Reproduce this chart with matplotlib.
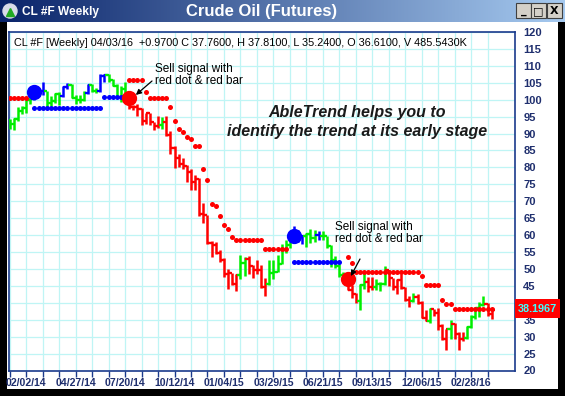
import numpy as np
import pandas as pd
import matplotlib.pyplot as plt
from matplotlib.patches import Rectangle
from matplotlib.colors import LinearSegmentedColormap

plt.rcParams['font.family'] = ['Liberation Sans', 'DejaVu Sans']

W, H = 565, 396
n = np.nan

# weekly bars, CL #F, week starting 01/05/14
weeks = pd.date_range('2014-01-05', periods=118, freq='W-SUN')

opens = [93.9, 92.7, 94.4, 96.6, 97.5, 99.9, 100.3, 102.2, 102.6, 102.6, 98.9, 99.5, 101.7, 101.1, 103.7,
         104.3, 100.6, 99.8, 100.0, 102.0, 104.4, 102.7, 102.7, 106.9, 107.3, 105.7, 104.1, 100.8, 103.1, 102.1,
         97.9, 97.7, 97.4, 93.7, 96.0, 93.3, 92.3, 92.4, 93.5, 89.7, 85.8, 82.8, 81.0, 80.5, 78.7,
         75.8, 76.5, 66.2, 65.8, 57.8, 57.1, 54.7, 52.7, 48.4, 48.7, 45.6, 48.2, 51.7, 52.8, 50.8,
         49.8, 49.6, 44.8, 45.7, 48.9, 49.1, 51.6, 55.7, 57.2, 59.2, 59.4, 59.7, 59.7, 60.3, 59.1,
         60.0, 59.6, 59.6, 56.9, 52.7, 50.9, 48.1, 47.1, 43.9, 42.5, 40.5, 45.2, 46.1, 44.6, 44.7,
         45.7, 45.5, 49.6, 47.3, 44.6, 46.6, 44.3, 40.7, 40.4, 41.7, 40.0, 35.6, 34.7, 38.1, 37.0,
         33.2, 29.4, 32.2, 33.6, 30.9, 29.4, 29.6, 32.8, 35.9, 38.5, 39.4, 39.5, 36.6]
highs = [94.3, 94.6, 97.8, 98.2, 100.0, 101.0, 103.8, 103.3, 105.2, 102.7, 101.0, 102.0, 102.2, 104.0, 104.9,
         104.5, 101.5, 101.3, 102.5, 104.6, 104.5, 103.4, 107.7, 107.7, 107.5, 106.2, 104.5, 103.9, 105.3, 102.3,
         98.5, 98.7, 97.5, 96.2, 96.1, 93.4, 95.1, 95.0, 95.2, 90.8, 86.3, 84.1, 82.7, 80.6, 79.6,
         77.8, 77.0, 69.4, 66.0, 58.2, 58.1, 55.6, 53.1, 50.0, 48.9, 48.4, 54.2, 53.6, 53.9, 51.3,
         52.5, 51.3, 47.4, 52.5, 52.5, 54.0, 57.4, 58.5, 59.9, 62.6, 61.5, 59.9, 60.6, 61.8, 61.4,
         61.2, 61.3, 59.7, 57.0, 53.8, 51.5, 49.0, 47.4, 45.2, 42.9, 45.5, 49.3, 47.6, 47.7, 47.1,
         46.0, 50.9, 49.8, 47.4, 47.0, 48.4, 44.7, 42.0, 42.9, 42.5, 40.4, 37.9, 38.4, 38.1, 38.4,
         33.6, 32.3, 34.8, 34.0, 31.3, 31.5, 33.2, 36.3, 38.7, 40.2, 41.9, 39.8, 37.8]
lows = [91.2, 91.1, 93.7, 95.7, 96.0, 98.8, 100.0, 101.0, 101.5, 97.4, 98.1, 98.9, 98.4, 100.8, 103.1,
        100.6, 98.7, 98.9, 99.6, 101.6, 102.2, 101.9, 102.4, 105.2, 105.2, 103.9, 100.4, 99.3, 101.7, 97.4,
        96.9, 95.1, 92.5, 92.9, 92.5, 91.0, 91.5, 91.2, 89.2, 84.1, 79.8, 80.0, 79.4, 75.8, 73.2,
        73.3, 65.7, 63.7, 57.4, 53.6, 54.4, 52.1, 47.6, 44.2, 45.2, 43.6, 47.0, 48.0, 48.6, 47.4,
        48.4, 44.4, 42.0, 45.3, 47.0, 49.0, 51.4, 54.7, 56.3, 57.6, 58.1, 57.3, 56.5, 57.6, 58.0,
        58.5, 58.6, 56.2, 50.6, 50.2, 47.7, 46.7, 43.8, 41.4, 39.9, 37.75, 44.1, 43.2, 43.8, 43.8,
        43.6, 45.4, 45.1, 43.8, 42.6, 44.0, 40.6, 38.9, 40.3, 39.6, 35.4, 34.5, 33.9, 36.1, 32.1,
        29.1, 26.2, 29.3, 29.3, 26.1, 28.7, 29.3, 32.6, 35.1, 35.9, 39.0, 36.0, 35.2]
closes = [92.7, 94.4, 96.6, 97.5, 99.9, 100.3, 102.2, 102.6, 102.6, 98.9, 99.5, 101.7, 101.1, 103.7, 104.3,
          100.6, 99.8, 100.0, 102.0, 104.4, 102.7, 102.7, 106.9, 107.3, 105.7, 104.1, 100.8, 103.1, 102.1, 97.9,
          97.7, 97.4, 93.7, 96.0, 93.3, 92.3, 92.4, 93.5, 89.7, 85.8, 82.8, 81.0, 80.5, 78.7, 75.8,
          76.5, 66.2, 65.8, 57.8, 57.1, 54.7, 52.7, 48.4, 48.7, 45.6, 48.2, 51.7, 52.8, 50.8, 49.8,
          49.6, 44.8, 45.7, 48.9, 49.1, 51.6, 55.7, 57.2, 59.2, 59.4, 59.7, 59.7, 60.3, 59.1, 60.0,
          59.6, 59.6, 56.9, 52.7, 50.9, 48.1, 47.1, 43.9, 42.5, 40.5, 45.2, 46.1, 44.6, 44.7, 45.7,
          45.5, 49.6, 47.3, 44.6, 46.6, 44.3, 40.7, 40.4, 41.7, 40.0, 35.6, 34.7, 38.1, 37.0, 33.2,
          29.4, 32.2, 33.6, 30.9, 29.4, 29.6, 32.8, 35.9, 38.5, 39.4, 39.5, 36.8, 37.8]
bar_trend = ("gggggg" "bbb" "gggg" "bb" "gggg" "b" "gg" "bb" "ggggg"
             "rrrrrrrr" "g" "rrrrrrrrrrrrrrrrrr" "gg" "rrrrr" "gggggg"
             "bbb" "ggg" "b" "gggggg" "rrr" "gg" "rr" "ggg" "rrrrrr" "g"
             "rrr" "g" "rrrr" "g" "rrr" "ggggg" "rr")

# AbleTrend stop dots
red_stop = ([100.6] * 5 + [n] * 24 + [105.9] * 4 + [102.3] + [100.5] * 5
            + [97.9, 93.7, 91.3, 90.6, 89.1, 88.4, 86.4, 86.4, 79.6, 76.3, 69.3, 68.6, 65.7, 63.1, 61.8, 59.5]
            + [58.7] * 7 + [55.8] * 6 + [n] * 14 + [53.5, 51.8] + [49.2] * 16 + [48.0]
            + [45.2] * 4 + [40.7] + [39.7] * 2 + [38.2] * 10)
blue_stop = [n] * 6 + [97.6] * 17 + [100.8] * 6 + [n] * 40 + [52.2] * 12 + [n] * 37

buy_weeks, buy_prices = [6, 69], [102.2, 59.6]
sell_weeks, sell_prices = [29, 82], [100.4, 46.9]
last_stop = "38.1967"

header = ("CL #F [Weekly] 04/03/16  +0.9700 C 37.7600, H 37.8100, L 35.2400, "
          "O 36.6100, V 485.5430K")

colors = {'g': '#00ee00', 'r': '#ff0000', 'b': '#0000ff'}
navy = '#1a3a8c'
label_col = '#1f2f6e'


def fx(px):
    return px / W


def fy(py):
    return 1 - py / H


fig = plt.figure(figsize=(W / 100, H / 100), dpi=100)
fig.patch.set_facecolor('black')
fig.patches.append(Rectangle((fx(7), fy(389)), fx(551), 367 / H, transform=fig.transFigure,
                             facecolor='white', edgecolor='none', zorder=-5))

# title bar
tb = fig.add_axes([0, fy(22), 1, 22 / H])
cmap = LinearSegmentedColormap.from_list('tb', ['#0a246a', '#a6caf0'])
tb.imshow(np.linspace(0, 1, 256)[None, :], aspect='auto', cmap=cmap, extent=[0, W, 22, 0])
tb.set_xlim(0, W)
tb.set_ylim(22, 0)
tb.axis('off')
tb.add_patch(plt.Circle((10, 11), 7, color='#d8dce8'))
tb.plot([10], [12], marker='^', color='#22aa22', markersize=6)
tb.text(22, 11.5, "CL #F Weekly", color='white', fontsize=8.6, fontweight='bold', va='center')
tb.text(262, 11.5, "Crude Oil (Futures)", color='white', fontsize=12, fontweight='bold',
        va='center', ha='center')
for bx, sym in [(516, '_'), (531, '□'), (547, 'X')]:
    tb.add_patch(Rectangle((bx, 3), 15, 15, facecolor='#d4d0c8', edgecolor='#404040', lw=0.8))
    tb.text(bx + 7.5, 11, sym, ha='center', va='center', fontsize=8, fontweight='bold',
            color='black', family='DejaVu Sans')

# price panel
ax = fig.add_axes([fx(8.5), fy(370.5), fx(515 - 8.5), (370.5 - 32) / H])
ax.set_facecolor('white')
x = np.arange(len(weeks))

for i in x:
    c = colors[bar_trend[i]]
    ax.plot([i, i], [lows[i], highs[i]], color=c, lw=1.8, solid_capstyle='butt', zorder=3)
    ax.plot([i - 0.8, i], [opens[i], opens[i]], color=c, lw=1.6, solid_capstyle='butt', zorder=3)
    ax.plot([i, i + 0.8], [closes[i], closes[i]], color=c, lw=1.6, solid_capstyle='butt', zorder=3)

ax.plot(x, red_stop, 'o', color='#ff0000', markersize=3.6, markeredgewidth=0, zorder=4)
ax.plot(x, blue_stop, 'o', color='#0000ff', markersize=3.6, markeredgewidth=0, zorder=4)
ax.plot(buy_weeks, buy_prices, 'o', color='#0000ff', markersize=11, markeredgewidth=0, zorder=5)
ax.plot(sell_weeks, sell_prices, 'o', color='#ff0000', markersize=11, markeredgewidth=0, zorder=5)

ax.set_xlim(-0.3, 122.65)
ax.set_ylim(20, 120)
ax.set_yticks(np.arange(20, 121, 5))
ax.set_xticks(x[::4])
ax.set_xticklabels([d.strftime('%m/%d/%y') if k % 3 == 1 else '' for k, d in enumerate(weeks[::4])])
ax.yaxis.tick_right()
ax.tick_params(axis='y', length=0, pad=6, labelsize=8, labelcolor=label_col)
ax.tick_params(axis='x', length=4, width=1, color=navy, direction='out', pad=1.5,
               labelsize=7.6, labelcolor=label_col)
for lab in ax.get_xticklabels() + ax.get_yticklabels():
    lab.set_fontweight('bold')
ax.grid(True, color='#bff5f5', lw=0.9)
ax.set_axisbelow(True)
for sp in ax.spines.values():
    sp.set_color(navy)
    sp.set_linewidth(1.2)

# annotations
fig.text(fx(14), fy(43), header, fontsize=7.8, va='center', color='black')
fig.text(fx(357), fy(113), "AbleTrend helps you to", fontsize=11.5, fontweight='bold',
         style='italic', ha='center', va='center', color='#1a1a1a')
fig.text(fx(357), fy(131), "identify the trend at its early stage", fontsize=11.5,
         fontweight='bold', style='italic', ha='center', va='center', color='#1a1a1a')

for (tx, ty), (ax0, ay0), xy in [((155, 75), (152, 81), (30.6, 101.4)),
                                 ((335, 233), (360, 259), (82.8, 47.9))]:
    fig.text(fx(tx), fy(ty), "Sell signal with\nred dot & red bar", fontsize=8.5,
             va='center', ha='left', linespacing=1.05)
    ax.annotate('', xy=xy, xytext=(fx(ax0), fy(ay0)), textcoords='figure fraction',
                arrowprops=dict(arrowstyle='-|>', color='black', lw=0.9,
                                mutation_scale=8, shrinkA=0, shrinkB=0), zorder=6)

# last stop value box
fig.patches.append(Rectangle((fx(515), fy(318)), fx(45), 19 / H, transform=fig.transFigure,
                             facecolor='#ff0000', edgecolor='none', zorder=5))
fig.text(fx(537.5), fy(308.5), last_stop, color='#40ffff', fontsize=7.8, fontweight='bold',
         ha='center', va='center', zorder=6)

fig.savefig('out.png', dpi=100, facecolor=fig.get_facecolor())
